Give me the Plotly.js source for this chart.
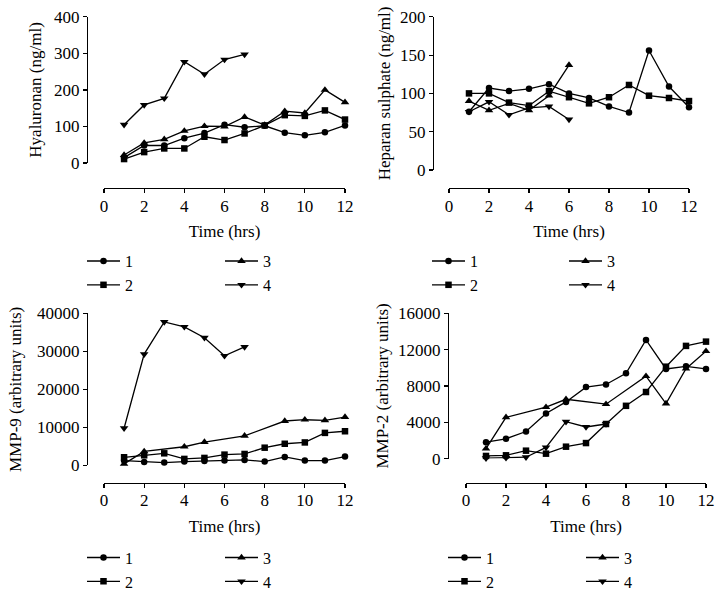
<!DOCTYPE html>
<html>
<head>
<meta charset="utf-8">
<script src="https://cdn.plot.ly/plotly-3.0.1.min.js"></script>
<style>html,body{margin:0;padding:0;background:#fff;}#chart{width:724px;height:599px;}</style>
</head>
<body>
<div id="chart"></div>
<script>
// ---- data ----
const hours = [1, 2, 3, 4, 5, 6, 7, 8, 9, 10, 11, 12];
const seriesNames = ['1', '2', '3', '4'];

// Hyaluronan (ng/ml)
const hyal1 = [15, 48, 48, 68, 82, 105, 98, 102, 83, 76, 84, 103];
const hyal2 = [11, 30, 40, 40, 72, 63, 81, 103, 131, 129, 144, 119];
const hyal3 = [22, 55, 65, 88, 101, 100, 126, 104, 142, 137, 200, 166];
const hyal4 = [105, 159, 177, 277, 243, 283, 297, null, null, null, null, null];

// Heparan sulphate (ng/ml)
const hep1 = [76, 107, 103, 106, 112, 100, 94, 83, 75, 156, 109, 82];
const hep2 = [100, 100, 88, 84, 103, 95, 87, 95, 111, 97, 94, 90];
const hep3 = [90, 78, 87, 78, 97, 137, null, null, null, null, null, null];
const hep4 = [76, 89, 72, 81, 83, 66, null, null, null, null, null, null];

// MMP-9 (arbitrary units)
const mmp9_1 = [1300, 950, 780, 1040, 1210, 1300, 1470, 1040, 2250, 1300, 1300, 2340];
const mmp9_2 = [2160, 2680, 3200, 1730, 1990, 2860, 3030, 4680, 5710, 6060, 8570, 9000];
const mmp9_3 = [440, 3700, null, 4930, 6150, null, 7790, null, 11690, 12030, 11860, 12730];
const mmp9_4 = [9800, 29270, 37740, 36440, 33590, 28830, 31170, null, null, null, null, null];

// MMP-2 (arbitrary units)
const mmp2_1 = [1810, 2180, 2980, 4970, 6240, 7870, 8160, 9400, 13060, 9870, 10160, 9870];
const mmp2_2 = [290, 360, 870, 540, 1310, 1710, 3810, 5810, 7330, 10120, 12410, 12880];
const mmp2_3 = [1090, 4540, null, 5660, 6530, null, 5990, null, 9070, 6060, 9900, 11830];
const mmp2_4 = [50, 80, 150, 1230, 4060, 3480, 3810, null, null, null, null, null];

const xTicks = [0, 2, 4, 6, 8, 10, 12];
const panelTitles = ['Hyaluronan (ng/ml)', 'Heparan sulphate (ng/ml)', 'MMP-9 (arbitrary units)', 'MMP-2 (arbitrary units)'];
const xTitle = 'Time (hrs)';

// ---- styling / layout ----
const W = 724, H = 599;
const FONT = '"Liberation Serif", "Times New Roman", Times, serif';
const px = v => v / W;
const py = v => 1 - v / H;
const symbols = ['circle', 'square', 'triangle-up', 'triangle-down'];
const msize = [6.5, 6.5, 7.5, 7.5];

const panels = [
  {data: [hyal1, hyal2, hyal3, hyal4], x0: 104, x1: 345, yTop: 17, yBot: 165, yAxisX: 87, xAxisY: 190.5, yrange: [0, 400], dtick: 100, legX: [82, 220], legY: 247, ystand: 7},
  {data: [hep1, hep2, hep3, hep4], x0: 449, x1: 689, yTop: 17, yBot: 172, yAxisX: 433, xAxisY: 190.5, yrange: [0, 200], dtick: 50, legX: [427, 564], legY: 247, ystand: 4},
  {data: [mmp9_1, mmp9_2, mmp9_3, mmp9_4], x0: 104, x1: 345, yTop: 317, yBot: 471, yAxisX: 87, xAxisY: 488.5, yrange: [0, 40000], dtick: 10000, legX: [82, 220], legY: 547, ystand: 10},
  {data: [mmp2_1, mmp2_2, mmp2_3, mmp2_4], x0: 466, x1: 706, yTop: 317, yBot: 464, yAxisX: 448, xAxisY: 488.5, yrange: [0, 16000], dtick: 4000, legX: [443, 581], legY: 547, ystand: 4}
];

const traces = [];
const layout = {
  width: W, height: H,
  margin: {l: 0, r: 0, t: 0, b: 0},
  paper_bgcolor: '#fff', plot_bgcolor: 'rgba(0,0,0,0)',
  font: {family: FONT, size: 17, color: '#000'},
  showlegend: true
};

panels.forEach((p, i) => {
  const n = i + 1;
  const xk = n === 1 ? 'xaxis' : 'xaxis' + n;
  const yk = n === 1 ? 'yaxis' : 'yaxis' + n;
  const xr = n === 1 ? 'x' : 'x' + n;
  const yr = n === 1 ? 'y' : 'y' + n;
  layout[xk] = {
    domain: [px(p.x0), px(p.x1)], range: [0, 12], anchor: 'free', position: py(p.xAxisY),
    tickvals: xTicks, ticks: 'outside', ticklen: 4, tickwidth: 1.2, tickcolor: '#000',
    ticklabelstandoff: -2,
    showline: true, linecolor: '#000', linewidth: 1.2, showgrid: false, zeroline: false,
    tickfont: {family: FONT, size: 17, color: '#000'},
    title: {text: xTitle, font: {family: FONT, size: 17, color: '#000'}, standoff: 10},
    fixedrange: true
  };
  layout[yk] = {
    domain: [py(p.yBot), py(p.yTop)], range: p.yrange, anchor: 'free', position: px(p.yAxisX),
    dtick: p.dtick, tick0: 0, tickformat: 'd', ticks: 'outside', ticklen: 4, tickwidth: 1.2, tickcolor: '#000',
    showline: true, linecolor: '#000', linewidth: 1.2, showgrid: false, zeroline: false,
    tickfont: {family: FONT, size: 17, color: '#000'},
    title: {text: panelTitles[i], font: {family: FONT, size: 17, color: '#000'}, standoff: p.ystand},
    fixedrange: true
  };
  const legA = 'legend' + (2 * i + 1 === 1 ? '' : (2 * i + 1));
  const legB = 'legend' + (2 * i + 2);
  [legA, legB].forEach((lk, j) => {
    layout[lk] = {
      x: px(p.legX[j]), y: py(p.legY), xanchor: 'left', yanchor: 'top',
      orientation: 'v', bgcolor: 'rgba(0,0,0,0)', borderwidth: 0,
      font: {family: FONT, size: 16, color: '#000'}, itemwidth: 33, tracegroupgap: 0
    };
  });
  p.data.forEach((vals, s) => {
    traces.push({
      type: 'scatter', mode: 'lines+markers', x: hours, y: vals, name: seriesNames[s],
      xaxis: xr, yaxis: yr, connectgaps: true, cliponaxis: false,
      line: {color: '#000', width: 1.3},
      marker: {symbol: symbols[s], size: msize[s], color: '#000'},
      legend: s < 2 ? legA : legB, showlegend: true
    });
  });
});

Plotly.newPlot('chart', traces, layout, {staticPlot: true, displayModeBar: false});
</script>
</body>
</html>
